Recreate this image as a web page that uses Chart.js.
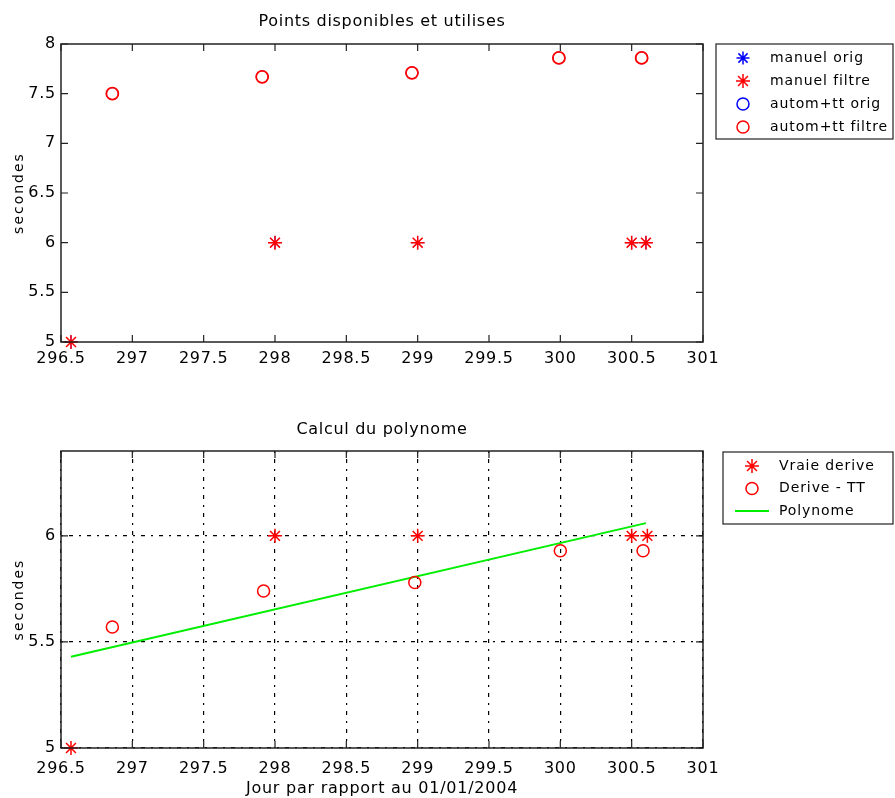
<!DOCTYPE html>
<html>
<head>
<meta charset="utf-8">
<script src="https://cdn.jsdelivr.net/npm/chart.js@4.4.1/dist/chart.umd.min.js"></script>
<style>
    html, body { margin: 0; padding: 0; background: #fff; }
    #wrap { position: relative; width: 895px; height: 798px; }
    canvas { position: absolute; left: 0; }
    #topCanvas { top: 0; }
    #botCanvas { top: 400px; }
</style>
</head>
<body>
<div id="wrap">
    <canvas id="topCanvas" width="895" height="400"></canvas>
    <canvas id="botCanvas" width="895" height="398"></canvas>
</div>
<script>
// Tick labels
const xTicks = [296.5, 297, 297.5, 298, 298.5, 299, 299.5, 300, 300.5, 301];
const topYTicks = [5, 5.5, 6, 6.5, 7, 7.5, 8];
const botYTicks = [5, 5.5, 6];

// Manual points (day, seconds)
const manuelDays = [296.57, 298.0, 299.0, 300.5, 300.6];
const manuelSecs = [5, 6, 6, 6, 6];

// Automatic + TT points
const automDays = [296.86, 297.91, 298.96, 299.99, 300.57];
const automSecs = [7.5, 7.67, 7.71, 7.86, 7.86];

// Bottom plot
const vraieDays = [296.57, 298.0, 299.0, 300.5, 300.61];
const vraieDerive = [5, 6, 6, 6, 6];
const deriveDays = [296.86, 297.92, 298.98, 300.0, 300.58];
const deriveTT = [5.57, 5.74, 5.78, 5.93, 5.93];
const polyDays = [296.57, 300.6];
const polyVals = [5.43, 6.06];

const FONT = 'DejaVu Sans, Arial, sans-serif';

function pts(xs, ys) {
    return xs.map((x, i) => ({ x: x, y: ys[i] }));
}

function marker(style, color, radius, width) {
    return {
        showLine: false,
        pointStyle: style,
        pointRadius: radius,
        pointHoverRadius: radius,
        pointBorderColor: color,
        pointBackgroundColor: 'rgba(0,0,0,0)',
        pointBorderWidth: width || 1.5,
        borderColor: color,
        backgroundColor: 'rgba(0,0,0,0)',
        clip: false
    };
}

// Draws the MATLAB-like frame, inward ticks, titles and legend
const matlabFrame = {
    id: 'matlabFrame',
    beforeDraw(chart) {
        chart.ctx.letterSpacing = '0.75px';
    },
    afterDatasetsDraw(chart, args, opts) {
        const ctx = chart.ctx;
        const a = chart.chartArea;
        const xs = chart.scales.x, ys = chart.scales.y;
        ctx.save();
        ctx.strokeStyle = '#222';
        ctx.lineWidth = 1.5;
        ctx.strokeRect(a.left, a.top, a.right - a.left, a.bottom - a.top);
        ctx.lineWidth = 1.2;
        ctx.beginPath();
        xs.ticks.forEach(t => {
            const px = xs.getPixelForValue(t.value);
            ctx.moveTo(px, a.bottom); ctx.lineTo(px, a.bottom - 7);
            ctx.moveTo(px, a.top); ctx.lineTo(px, a.top + 7);
        });
        ys.ticks.forEach(t => {
            const py = ys.getPixelForValue(t.value);
            ctx.moveTo(a.left, py); ctx.lineTo(a.left + 7, py);
            ctx.moveTo(a.right, py); ctx.lineTo(a.right - 7, py);
        });
        ctx.stroke();

        // title
        ctx.fillStyle = '#000';
        ctx.font = '16px ' + FONT;
        ctx.letterSpacing = '0.7px';
        ctx.textAlign = 'center';
        ctx.textBaseline = 'middle';
        ctx.fillText(opts.title, (a.left + a.right) / 2, opts.titleY);

        // y label, rotated
        ctx.save();
        ctx.translate(19, (a.top + a.bottom) / 2);
        ctx.rotate(-Math.PI / 2);
        ctx.font = '14px ' + FONT;
        ctx.letterSpacing = '2px';
        ctx.fillText('secondes', 0, 0);
        ctx.restore();

        // legend
        const lg = opts.legend;
        ctx.fillStyle = '#fff';
        ctx.fillRect(lg.x, lg.y, lg.w, lg.h);
        ctx.strokeStyle = '#222';
        ctx.lineWidth = 1.2;
        ctx.strokeRect(lg.x, lg.y, lg.w, lg.h);
        lg.items.forEach((idx, i) => {
            const ds = chart.data.datasets[idx];
            const y = lg.y + lg.first + i * lg.step;
            if (ds.showLine) {
                ctx.strokeStyle = ds.borderColor;
                ctx.lineWidth = ds.borderWidth;
                ctx.beginPath();
                ctx.moveTo(lg.markX - 17, y);
                ctx.lineTo(lg.markX + 17, y);
                ctx.stroke();
            } else {
                ctx.fillStyle = 'rgba(0,0,0,0)';
                ctx.strokeStyle = ds.pointBorderColor;
                ctx.lineWidth = 1.5;
                Chart.helpers.drawPoint(ctx, {
                    pointStyle: ds.pointStyle,
                    radius: ds.pointRadius,
                    borderWidth: 1.5,
                    rotation: 0
                }, lg.markX, y);
            }
            ctx.fillStyle = '#000';
            ctx.font = '14px ' + FONT;
            ctx.letterSpacing = '0.9px';
            ctx.textAlign = 'left';
            ctx.fillText(ds.label, lg.textX, y);
        });
        ctx.restore();
    }
};

function xScale(withTitle, gap) {
    return {
        type: 'linear',
        min: 296.5,
        max: 301,
        afterBuildTicks: s => { s.ticks = xTicks.map(v => ({ value: v })); },
        afterFit: s => { s.height = withTitle ? 50 : 58; },
        border: { display: false },
        ticks: { color: '#000', padding: gap, font: { family: FONT, size: 16 }, autoSkip: false, maxRotation: 0,
                 callback: v => String(v) },
        title: {
            display: withTitle,
            text: 'Jour par rapport au 01/01/2004',
            color: '#000',
            font: { family: FONT, size: 16 },
            padding: { top: 0, bottom: 0 }
        }
    };
}

function yScale(min, max, tickVals) {
    return {
        type: 'linear',
        min: min,
        max: max,
        afterBuildTicks: s => { s.ticks = tickVals.map(v => ({ value: v })); },
        afterFit: s => { s.width = 61; },
        border: { display: false },
        ticks: { color: '#000', padding: 5, font: { family: FONT, size: 16 }, callback: v => String(v) }
    };
}

const topDatasets = [
    Object.assign({ label: 'manuel orig', data: pts(manuelDays, manuelSecs), order: 2 }, marker('star', '#0000ff', 6.5, 1)),
    Object.assign({ label: 'manuel filtre', data: pts(manuelDays, manuelSecs), order: 1 }, marker('star', '#ff0000', 7)),
    Object.assign({ label: 'autom+tt orig', data: pts(automDays, automSecs), order: 2 }, marker('circle', '#0000ff', 6, 0.8)),
    Object.assign({ label: 'autom+tt filtre', data: pts(automDays, automSecs), order: 1 }, marker('circle', '#ff0000', 6, 1.8))
];

const noGrid = { display: false, drawTicks: false, tickLength: 0 };

new Chart(document.getElementById('topCanvas'), {
    type: 'scatter',
    data: { datasets: topDatasets },
    options: {
        responsive: false,
        animation: false,
        layout: { padding: { left: 0, right: 192, top: 44, bottom: 0 } },
        scales: {
            x: Object.assign(xScale(false, 7), { grid: noGrid }),
            y: Object.assign(yScale(5, 8, topYTicks), { grid: noGrid })
        },
        plugins: {
            legend: { display: false },
            tooltip: { enabled: false },
            matlabFrame: {
                title: 'Points disponibles et utilises',
                titleY: 22,
                legend: { x: 716, y: 44, w: 177, h: 95, first: 14, step: 23, markX: 743, textX: 770, items: [0, 1, 2, 3] }
            }
        }
    },
    plugins: [matlabFrame]
});

const dotted = {
    color: '#000',
    lineWidth: 1.2,
    drawTicks: false,
    tickLength: 0
};
const dottedBorder = { display: false, dash: [2, 6, 4, 6] };

new Chart(document.getElementById('botCanvas'), {
    type: 'scatter',
    data: {
        datasets: [
            Object.assign({ label: 'Vraie derive', data: pts(vraieDays, vraieDerive), order: 1 }, marker('star', '#ff0000', 7)),
            Object.assign({ label: 'Derive - TT', data: pts(deriveDays, deriveTT), order: 2 }, marker('circle', '#ff0000', 6)),
            {
                label: 'Polynome',
                data: pts(polyDays, polyVals),
                showLine: true,
                borderColor: '#00ee00',
                borderWidth: 2,
                pointRadius: 0,
                order: 3
            }
        ]
    },
    options: {
        responsive: false,
        animation: false,
        layout: { padding: { left: 0, right: 192, top: 51, bottom: 0 } },
        scales: {
            x: Object.assign(xScale(true, 11), { grid: dotted, border: dottedBorder }),
            y: Object.assign(yScale(5, 6.4, botYTicks), { grid: dotted, border: dottedBorder })
        },
        plugins: {
            legend: { display: false },
            tooltip: { enabled: false },
            matlabFrame: {
                title: 'Calcul du polynome',
                titleY: 30,
                legend: { x: 723, y: 52, w: 170, h: 72, first: 14, step: 22.5, markX: 752, textX: 779, items: [0, 1, 2] }
            }
        }
    },
    plugins: [matlabFrame]
});
</script>
</body>
</html>
